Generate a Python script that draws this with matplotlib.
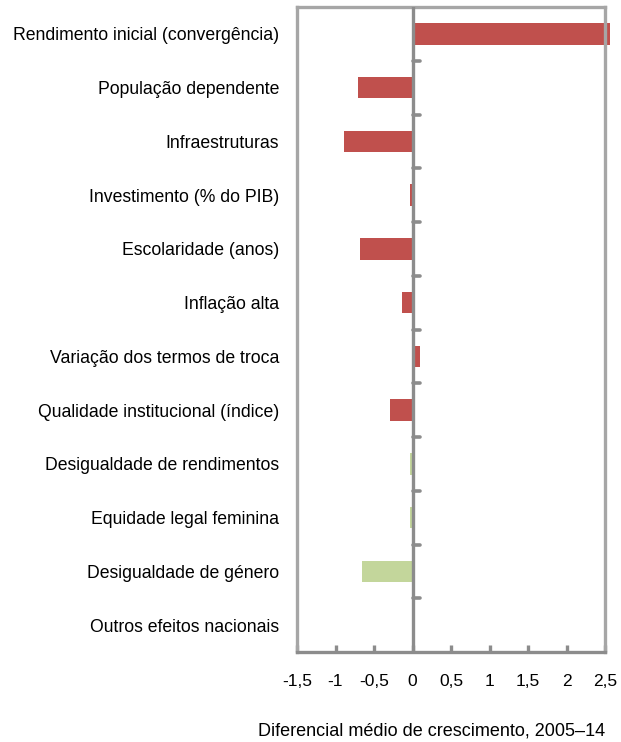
import matplotlib
matplotlib.use("Agg")
import matplotlib.pyplot as plt
import numpy as np

plt.rcParams["font.family"] = ["Liberation Sans", "DejaVu Sans"]

# categories top to bottom
categories = [
    "Rendimento inicial (convergência)",
    "População dependente",
    "Infraestruturas",
    "Investimento (% do PIB)",
    "Escolaridade (anos)",
    "Inflação alta",
    "Variação dos termos de troca",
    "Qualidade institucional (índice)",
    "Desigualdade de rendimentos",
    "Equidade legal feminina",
    "Desigualdade de género",
    "Outros efeitos nacionais",
]
values = [2.56, -0.71, -0.89, -0.03, -0.68, -0.14, 0.10, -0.29, -0.03, -0.03, -0.66, 0.0]
is_gender = [False] * 8 + [True, True, True, False]
xticks = [-1.5, -1, -0.5, 0, 0.5, 1, 1.5, 2, 2.5]
xtick_labels = ["-1,5", "-1", "-0,5", "0", "0,5", "1", "1,5", "2", "2,5"]
xlabel = "Diferencial médio de crescimento, 2005\u201314"

RED = "#C0504D"
GREEN = "#C3D69B"
BORDER = "#A6A6A6"
AXIS = "#8C8C8C"

fig = plt.figure(figsize=(6.21, 7.42), dpi=100)
ax = fig.add_axes([297 / 621, 1 - 652 / 742, 308 / 621, 645 / 742])

n = len(categories)
ypos = np.arange(n)
colors = [GREEN if g else RED for g in is_gender]
ax.barh(ypos, values, height=0.4, color=colors, clip_on=False, zorder=2)

ax.set_xlim(-1.5, 2.5)
ax.set_ylim(n - 0.5, -0.5)

# frame
for side in ("left", "right", "top"):
    ax.spines[side].set_color(BORDER)
    ax.spines[side].set_linewidth(2.4)
ax.spines["bottom"].set_color(AXIS)
ax.spines["bottom"].set_linewidth(2.4)

# vertical axis line at zero with ticks between categories
ax.axvline(0, color=AXIS, lw=2.4, zorder=3)
for b in np.arange(0.5, n - 0.5, 1.0):
    ax.plot([0, 0.1], [b, b], color=AXIS, lw=2.6, zorder=3, solid_capstyle="round")

ax.set_yticks(ypos)
ax.set_yticklabels(categories, fontsize=12.7)
ax.tick_params(axis="y", length=0, pad=13)

ax.set_xticks(xticks)
ax.set_xticklabels(xtick_labels, fontsize=12.5)
ax.tick_params(axis="x", direction="in", length=5, width=2.4, color=AXIS, pad=16)

fig.text(432 / 621, 1 - 731 / 742, xlabel, fontsize=13, ha="center", va="center")

fig.savefig("out.png", dpi=100)
